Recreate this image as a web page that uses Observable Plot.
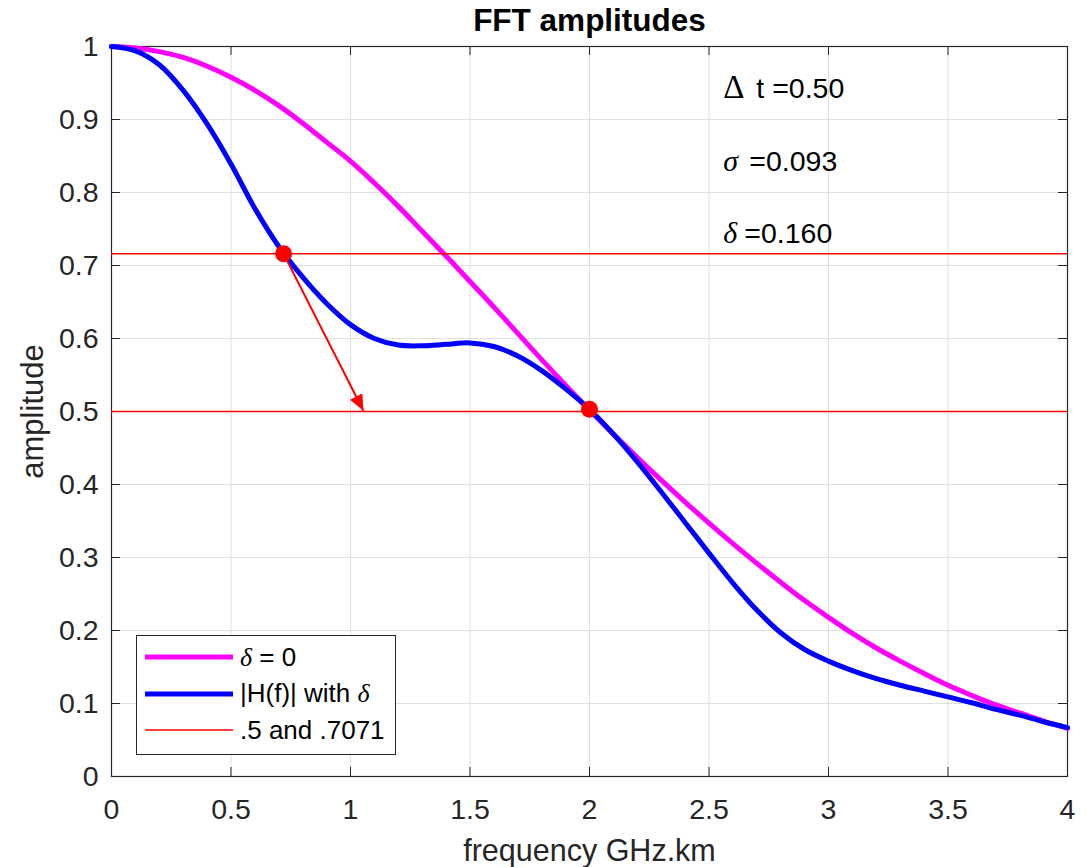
<!DOCTYPE html>
<html>
<head>
<meta charset="utf-8">
<script src="https://cdn.jsdelivr.net/npm/d3@7"></script>
<script src="https://cdn.jsdelivr.net/npm/@observablehq/plot@0.6"></script>
<style>
  html, body { margin: 0; padding: 0; background: #fff; }
  #wrap { position: relative; width: 1092px; height: 867px; overflow: hidden; }
  #legend { position: absolute; left: 136px; top: 635px; width: 258px; height: 115px;
    border: 1px solid #262626; background: #fff; font-family: 'Liberation Sans', Arial, sans-serif;
    font-size: 26px; color: #000; box-sizing: content-box; padding-top: 3px; }
  .row { display: flex; align-items: center; height: 36.5px; white-space: nowrap; }
  .row svg { margin-left: 8px; margin-right: 7px; flex: none; }
  .g { font-family: 'Liberation Serif', 'DejaVu Serif', serif; font-style: italic; }
</style>
</head>
<body>
<div id="wrap">
  <div id="chart"></div>
  <div id="legend"></div>
</div>
<script>
// ---- data ----
const freq = [0,0.1,0.2,0.3,0.4,0.5,0.6,0.7,0.8,0.9,1.0,1.1,1.2,1.3,1.4,1.5,1.6,1.7,1.8,1.9,2.0,
              2.1,2.2,2.3,2.4,2.5,2.6,2.7,2.8,2.9,3.0,3.1,3.2,3.3,3.4,3.5,3.6,3.7,3.8,3.9,4.0];
const ampNoDelta = [1.000,0.998,0.993,0.985,0.973,0.958,0.940,0.919,0.895,0.869,0.843,0.813,0.781,0.747,0.713,0.678,0.643,0.607,0.571,0.536,0.502,
                    0.469,0.437,0.406,0.376,0.347,0.319,0.292,0.266,0.241,0.218,0.196,0.176,0.158,0.141,0.125,0.111,0.098,0.087,0.076,0.066];
const ampWithDelta = [1.000,0.994,0.975,0.940,0.894,0.839,0.778,0.726,0.684,0.648,0.619,0.600,0.591,0.590,0.592,0.594,0.589,0.576,0.556,0.531,0.503,
                      0.469,0.431,0.390,0.348,0.306,0.265,0.228,0.197,0.174,0.158,0.145,0.134,0.125,0.117,0.109,0.101,0.092,0.084,0.075,0.067];
const refLevels = [0.5, 0.716];
const markerF = [0.72, 2.0];
const markerA = [0.716, 0.503];
const arrowFrom = [0.72, 0.716];
const arrowTo = [1.054, 0.501];
const xTicks = [0, 0.5, 1, 1.5, 2, 2.5, 3, 3.5, 4];
const yTicks = [0, 0.1, 0.2, 0.3, 0.4, 0.5, 0.6, 0.7, 0.8, 0.9, 1];
const annotSymbols = ["Δ", "σ", "δ"];
const annotValues = ["t =0.50", "=0.093", "=0.160"];
const annotX = 2.56;
const annotY = [0.930, 0.830, 0.731];
const legendLabels = ['<span class="g">δ</span> = 0', '|H(f)| with <span class="g">δ</span>', '.5 and .7071'];
const legendColors = ["#ff00ff", "#0000ff", "#ff0000"];
const legendWidths = [5, 5, 1.5];
const titleText = "FFT amplitudes";
const xLabel = "frequency GHz.km";
const yLabel = "amplitude";

// ---- layout / style ----
const W = 1092, H = 867;
const mL = 111, mR = 25, mT = 46, mB = 91;
const innerW = W - mL - mR, innerH = H - mT - mB;
const tickLen = 9;
const axisColor = "#262626";
const gridColor = "#dfdfdf";
const font = "'Liberation Sans', Arial, Helvetica, sans-serif";

const noDeltaData = freq.map((f, i) => ({f, a: ampNoDelta[i]}));
const withDeltaData = freq.map((f, i) => ({f, a: ampWithDelta[i]}));
const markers = markerF.map((f, i) => ({f, a: markerA[i]}));
const annots = annotSymbols.map((s, i) => ({s, v: annotValues[i], y: annotY[i]}));

function arrowHead(color, context) {
  const ns = "http://www.w3.org/2000/svg";
  const m = context.document.createElementNS(ns, "marker");
  m.setAttribute("viewBox", "-16 -7 16 14");
  m.setAttribute("markerWidth", "16");
  m.setAttribute("markerHeight", "14");
  m.setAttribute("markerUnits", "userSpaceOnUse");
  m.setAttribute("orient", "auto");
  m.setAttribute("refX", "0");
  m.setAttribute("refY", "0");
  const p = context.document.createElementNS(ns, "path");
  p.setAttribute("d", "M-16,-7L0,0L-16,7Z");
  p.setAttribute("fill", color);
  p.setAttribute("stroke", "none");
  m.appendChild(p);
  return m;
}

const chart = Plot.plot({
  width: W, height: H,
  marginLeft: mL, marginRight: mR, marginTop: mT, marginBottom: mB,
  x: {domain: [0, 4]},
  y: {domain: [0, 1]},
  style: {fontFamily: font, fontSize: "28.5px", color: axisColor, background: "#fff"},
  marks: [
    Plot.gridX(xTicks, {stroke: gridColor, strokeOpacity: 1, strokeWidth: 1}),
    Plot.gridY(yTicks, {stroke: gridColor, strokeOpacity: 1, strokeWidth: 1}),
    Plot.frame({stroke: axisColor, strokeWidth: 1.2}),
    Plot.tickX(xTicks, {x: d => d, insetTop: innerH - tickLen, stroke: axisColor}),
    Plot.tickX(xTicks, {x: d => d, insetBottom: innerH - tickLen, stroke: axisColor}),
    Plot.tickY(yTicks, {y: d => d, insetRight: innerW - tickLen, stroke: axisColor}),
    Plot.tickY(yTicks, {y: d => d, insetLeft: innerW - tickLen, stroke: axisColor}),
    Plot.axisX(xTicks, {tickSize: 0, tickPadding: 22, tickFormat: d => `${d}`, label: null, fill: axisColor}),
    Plot.axisY(yTicks, {tickSize: 0, tickPadding: 13, tickFormat: d => `${d}`, label: null, fill: axisColor}),
    Plot.line(noDeltaData, {x: "f", y: "a", stroke: "#ff00ff", strokeWidth: 5, curve: "catmull-rom"}),
    Plot.line(withDeltaData, {x: "f", y: "a", stroke: "#0000ff", strokeWidth: 5, curve: "catmull-rom"}),
    Plot.ruleY(refLevels, {stroke: "#ff0000", strokeWidth: 1.5}),
    Plot.link([{x1: arrowFrom[0], y1: arrowFrom[1], x2: arrowTo[0], y2: arrowTo[1]}],
      {x1: "x1", y1: "y1", x2: "x2", y2: "y2", stroke: "#ff0000", strokeWidth: 2, markerEnd: arrowHead}),
    Plot.dot(markers, {x: "f", y: "a", r: 8.5, fill: "#ff0000", stroke: "none"}),
    // annotations
    Plot.text(annots.filter(d => d.s === "Δ"), {x: annotX, y: "y", text: "s", textAnchor: "start", lineAnchor: "bottom",
      fontFamily: "'Liberation Serif', serif", fontSize: 33, fill: "#000"}),
    Plot.text(annots.filter(d => d.s !== "Δ"), {x: annotX, y: "y", text: "s", textAnchor: "start", lineAnchor: "bottom",
      fontFamily: "'Liberation Serif', serif", fontStyle: "italic", fontSize: 30, fill: "#000"}),
    Plot.text(annots, {x: annotX, y: "y", text: "v", textAnchor: "start", lineAnchor: "bottom",
      fill: "#000", fontSize: 28.5}),
    // title and axis labels
    Plot.text([titleText], {frameAnchor: "top", dy: -16, text: d => d, lineAnchor: "bottom",
      fontWeight: "bold", fontSize: 31.5, fill: "#000"}),
    Plot.text([xLabel], {frameAnchor: "bottom", dy: 84, text: d => d, lineAnchor: "bottom",
      fontSize: 30.5, fill: axisColor}),
    Plot.text([yLabel], {frameAnchor: "left", dx: -69, text: d => d, textAnchor: "middle", lineAnchor: "bottom", rotate: -90,
      fontSize: 31, fill: axisColor})
  ]
});
document.getElementById("chart").appendChild(chart);

// offsets for value text after the symbol
const svg = d3.select(chart);
const valueOffsets = [33, 26, 21];
svg.selectAll("g[aria-label='text']").filter((d, i) => i === 2).selectAll("text")
  .attr("dx", (d, i) => valueOffsets[i]);

// legend
const legend = d3.select("#legend");
legendLabels.forEach((lab, i) => {
  const row = legend.append("div").attr("class", "row");
  const s = row.append("svg").attr("width", 88).attr("height", 10);
  s.append("line").attr("x1", 0).attr("x2", 88).attr("y1", 5).attr("y2", 5)
    .attr("stroke", legendColors[i]).attr("stroke-width", legendWidths[i]);
  row.append("span").html(lab);
});
</script>
</body>
</html>
